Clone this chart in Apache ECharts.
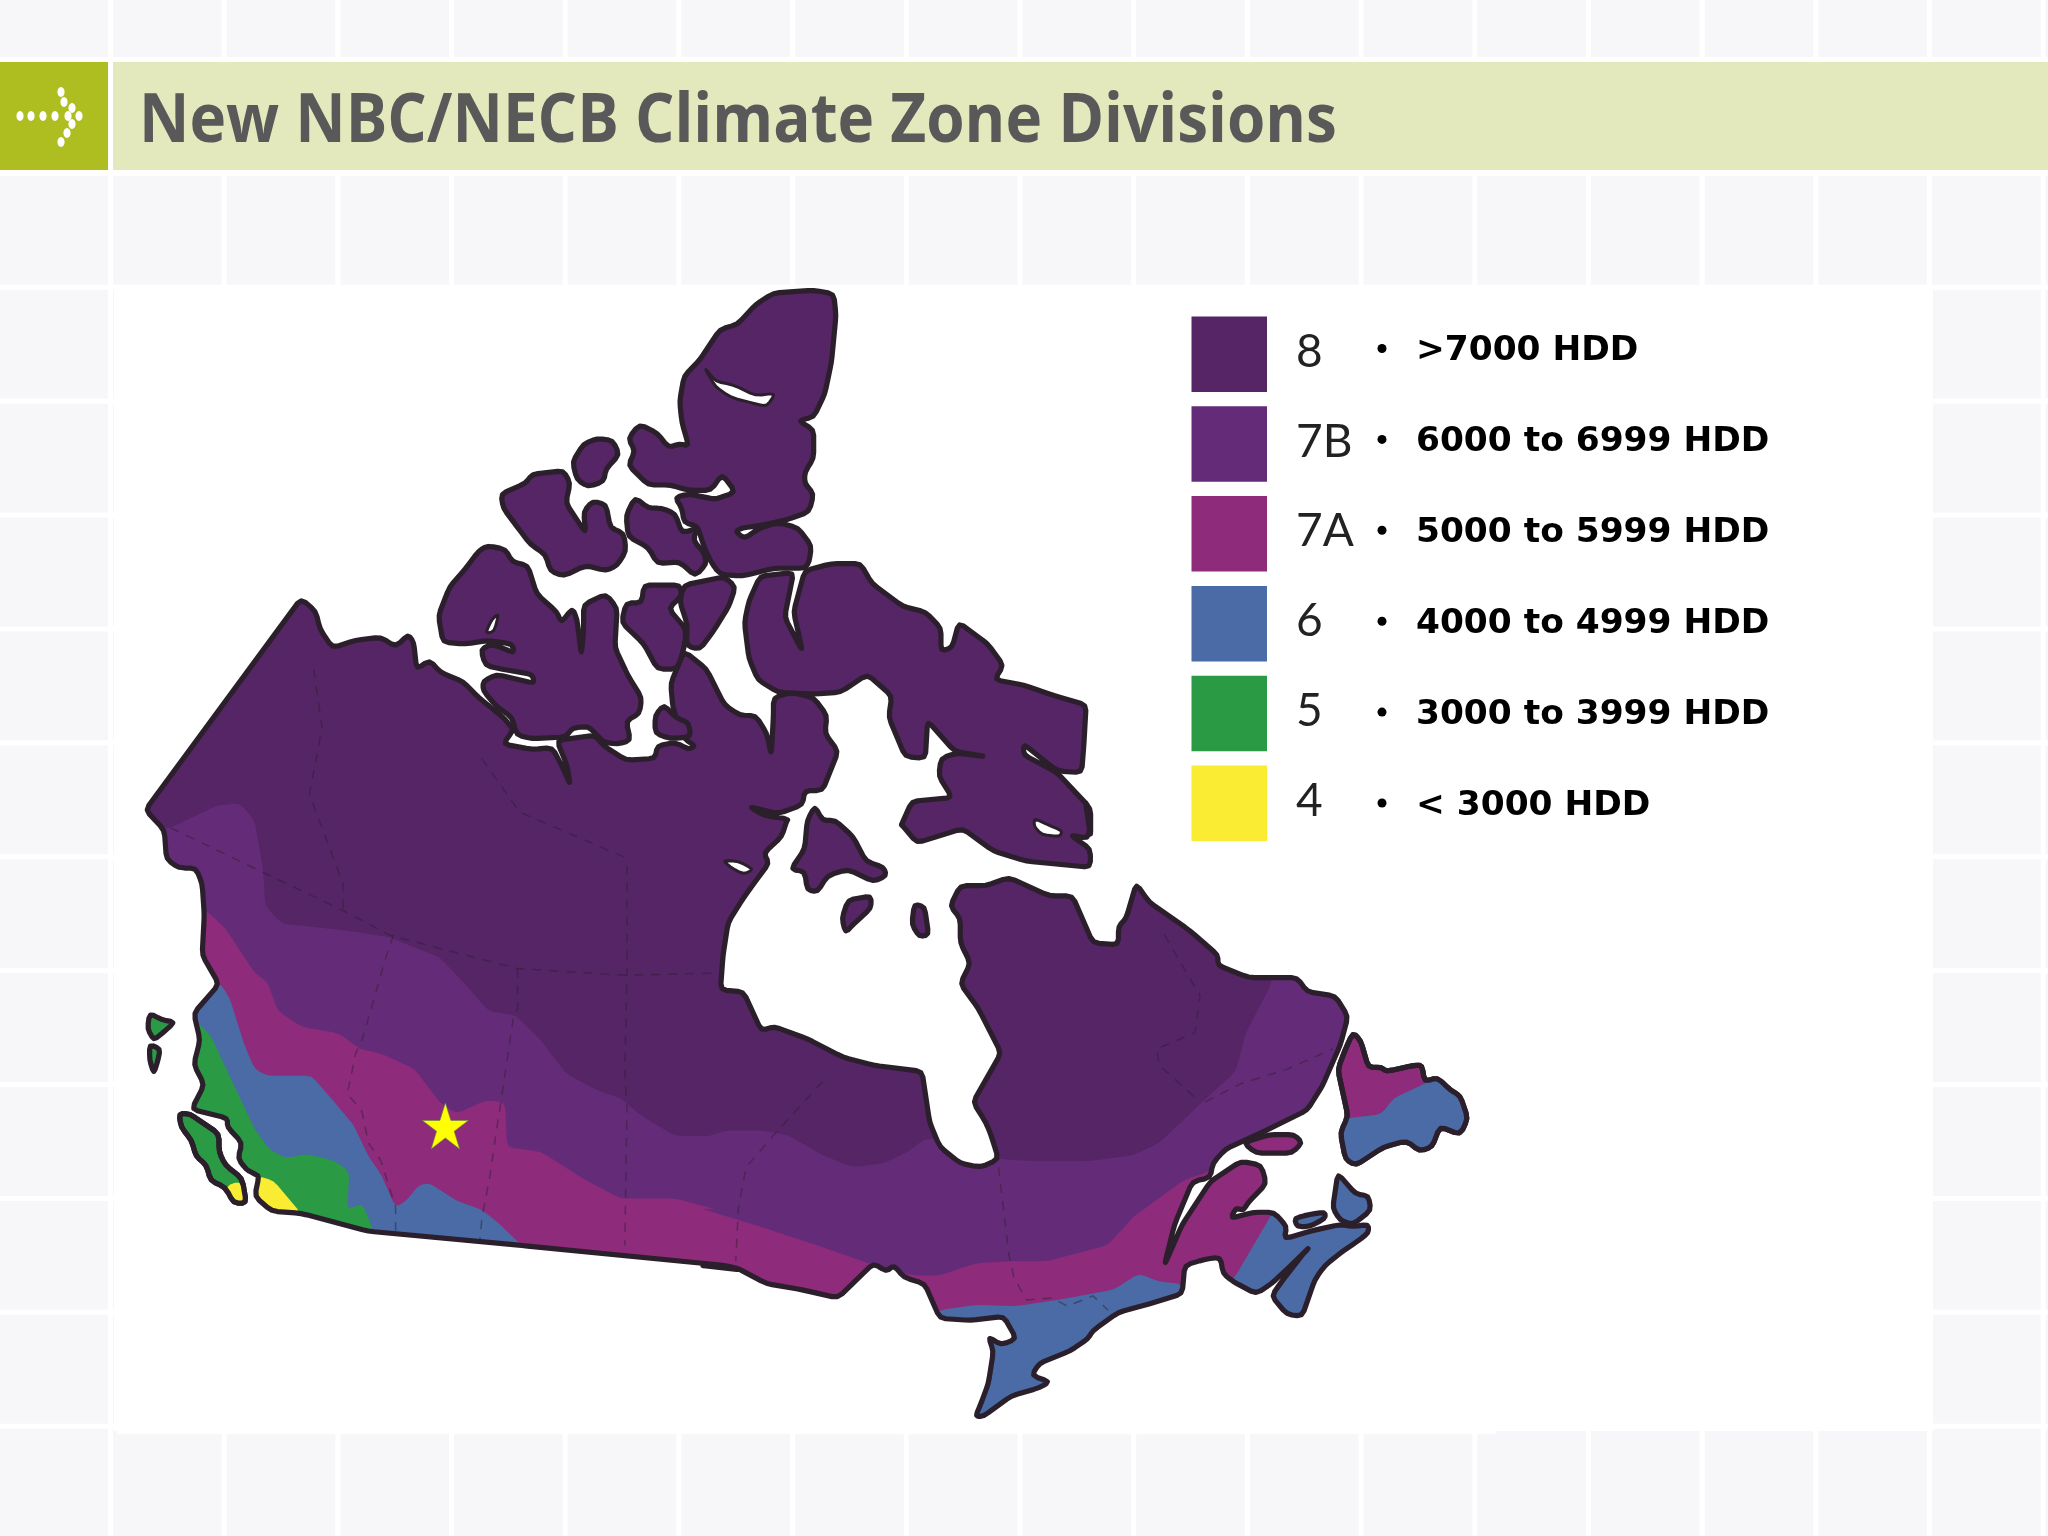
<!DOCTYPE html>
<html>
<head>
<meta charset="utf-8">
<style>
html,body{margin:0;padding:0;width:2048px;height:1536px;overflow:hidden;background-color:#f7f7f9;
background-image:linear-gradient(to right,#fff 5px,transparent 5px),linear-gradient(to bottom,#fff 5px,transparent 5px);
background-size:113.7px 113.9px;background-position:108px 57px;}
#top{position:absolute;left:0;top:57px;width:2048px;height:118px;background:#fff}
#panel{position:absolute;left:114px;top:287px;width:1819px;height:1144px;background:#fff}
#box{position:absolute;left:0;top:62px;width:108px;height:108px;background:#aebd20}
#band{position:absolute;left:113px;top:62px;width:1935px;height:108px;background:#e3e8bd}
#chart{position:absolute;left:0;top:0;width:2048px;height:1536px}
</style>
<script src="https://cdn.jsdelivr.net/npm/echarts@6/dist/echarts.min.js"></script>
</head>
<body>
<div id="top"></div><div id="panel"></div><div id="box"></div><div id="band"></div>
<div id="chart"></div>
<script>
// ---- content ----
const titleText = 'New NBC/NECB Climate Zone Divisions';
const zoneLabels = ['8','7B','7A','6','5','4'];
const zoneRanges = ['>7000 HDD','6000 to 6999 HDD','5000 to 5999 HDD','4000 to 4999 HDD','3000 to 3999 HDD','< 3000 HDD'];
const zoneColors = ['#552566','#642c78','#8e2b7b','#4a6ba5','#2a9a45','#f9ec32'];
const [C8,C7B,C7A,C6,C5,C4] = zoneColors;
const ink = '#2b1f2b';

const vA = a => a.map(p => [322 + .342*p[0], 214 + .2736*p[1]]);   // Arctic view
const vB = a => a.map(p => [92 + .322*p[0], 444 + .342*p[1]]);     // West view
const vC = a => a.map(p => [536 + .3906*p[0], 612.5 + .3125*p[1]]); // East view

const coastNW = [[60,515],[430,42],[465,70],[475,110],[505,152],[560,135],[620,128],[655,150],[685,122],[698,140],[705,200]];
const coastArctic = [[20,1065],[45,1100],[95,1125],[130,1170],[185,1225],[205,1255],[205,1265],[185,1300],[250,1315],[295,1310],[320,1370],[335,1415],[328,1360],[305,1290],[390,1275],[410,1305],[460,1345],[525,1340],[530,1305],[570,1295],[600,1315],[615,1305],[590,1285],[565,1200],[560,1130],[590,1040],[640,1090],[680,1190],[715,1220],[750,1220],[775,1270],[785,1330],[790,1220],[790,1170],[830,1155],[880,1170],[910,1220],[905,1270],[935,1320],[900,1430],[860,1430],[855,1470],[800,1495],[735,1475],[770,1500],[825,1510]];
const coastEast = [[170,50],[160,90],[125,130],[135,155],[105,205],[85,240],[55,300],[45,380],[40,465],[85,470],[120,565],[145,555],[210,585],[280,630],[340,650],[435,665],[450,790],[470,850],[510,890],[550,900],[585,880],[570,820],[560,790],[535,740],[590,620],[545,510],[510,450],[530,400],[510,350],[510,290],[490,260],[510,210],[560,210],[605,190],[685,235],[730,235],[770,350],[820,355],[820,310],[835,290],[855,205],[880,250],[960,320],[1015,380],[1015,405],[1075,435],[1170,435],[1190,470],[1245,480],[1270,530],[1255,600],[1220,700],[1190,760],[1100,815],[1030,855],[1005,890],[1000,925],[965,935],[930,1040],[910,1140],[945,1040],[1000,935],[1060,885],[1100,895],[1110,940],[1075,985],[1065,1005],[1050,1000],[1040,1025],[1085,1010],[1125,1010],[1150,1045],[1145,1075],[1200,1055],[1255,1040],[1280,1045],[1310,1040],[1310,1060],[1290,1080],[1260,1105],[1225,1140],[1205,1175],[1180,1265],[1150,1260],[1120,1215],[1140,1180],[1180,1115],[1195,1095],[1150,1150],[1120,1185],[1090,1210],[1045,1180],[1025,1160],[1020,1120],[990,1125],[950,1140],[945,1210],[880,1235],[820,1255],[770,1300],[760,1320],[725,1350],[665,1380],[650,1410],[685,1425],[665,1440],[610,1460],[555,1510],[540,1510],[550,1480],[565,1430],[575,1350],[565,1315],[590,1335],[620,1320],[595,1265],[530,1275],[470,1270],[440,1185],[400,1170],[380,1140],[365,1155],[340,1135],[270,1220],[200,1200],[130,1185],[70,1145],[0,1140]];
const coastSW = [[1480,1545],[1440,1535],[955,1490],[590,1458],[430,1418],[360,1413],[320,1380],[330,1335],[320,1330],[300,1320],[280,1295],[290,1260],[255,1225],[255,1205],[170,1185],[200,1130],[175,1085],[190,1030],[175,970],[235,905],[195,840],[200,750],[195,680],[180,645],[140,645],[110,625],[105,560]];
const mainland = [...vB(coastNW),...vA(coastArctic),...vC(coastEast),...vB(coastSW)];

const band7B = [...vB([[60,560],[120,555],[230,505],[285,500],[320,540],[340,650],[345,730],[385,770],[440,775],[540,785],[640,800],[760,845],[830,915],[875,965],[940,975],[1000,1030],[1060,1105],[1140,1145],[1190,1160],[1240,1200],[1320,1245],[1400,1245],[1470,1235]]),
  ...vC([[0,830],[50,810],[120,810],[170,820],[240,870],[300,900],[360,890],[410,860],[440,830],[470,830],[590,880],[660,885],[760,885],[850,870],[900,840],[980,745],[1050,665],[1070,570],[1120,450],[1120,400],[1300,400],[1400,1500],[400,1525]]),
  ...vB([[40,1500]])];
const band7A = [...vB([[150,740],[205,740],[250,780],[320,880],[350,900],[375,965],[430,1000],[520,1015],[570,1050],[620,1060],[700,1095],[760,1170],[800,1195],[870,1165],[915,1170],[920,1270],[1000,1280],[1100,1340],[1190,1385],[1320,1385],[1420,1410]]),
  ...vC([[0,1000],[130,1050],[250,1100],[330,1135],[420,1165],[470,1165],[540,1135],[610,1130],[680,1130],[800,1090],[850,1020],[950,930],[1000,910],[1010,870],[1040,860],[1150,860],[1200,1000],[1150,1500],[400,1525]]),
  ...vB([[150,1500]])];
const zone6West = [[170,900],[235,900],[260,935],[295,1040],[320,1095],[350,1110],[455,1110],[510,1170],[555,1220],[590,1290],[620,1330],[655,1405],[680,1390],[710,1355],[735,1350],[800,1390],[860,1410],[900,1440],[955,1490],[955,1530],[170,1500]];
const zone5West = [[140,990],[185,990],[215,1020],[250,1090],[290,1170],[320,1230],[355,1275],[395,1295],[440,1285],[510,1300],[545,1325],[540,1410],[575,1395],[600,1450],[600,1510],[140,1510]];
const zone4West = [[300,1335],[330,1335],[365,1345],[430,1418],[400,1450],[300,1450]];
const zone6South = [[450,1270],[470,1250],[540,1237],[620,1240],[700,1225],[810,1200],[860,1160],[900,1180],[945,1185],[960,1240],[800,1525],[450,1525]];
const zone6Maritime = [[1125,1005],[1050,1165],[1040,1180],[1090,1230],[1200,1290],[1350,1100],[1330,1000]];

const isleEllesmere = [[790,38],[880,30],[925,40],[930,100],[920,230],[905,320],[880,385],[845,395],[880,420],[880,500],[860,540],[860,570],[880,600],[870,650],[820,672],[755,690],[720,695],[705,705],[725,725],[760,695],[800,680],[845,695],[875,745],[870,790],[860,808],[790,808],[720,830],[670,825],[650,790],[635,750],[620,690],[590,680],[585,640],[570,610],[600,600],[640,610],[660,615],[705,595],[675,545],[650,590],[600,590],[560,575],[510,575],[465,520],[480,480],[465,445],[490,405],[530,430],[555,470],[580,460],[600,465],[585,400],[580,340],[590,270],[625,225],[670,140],[710,125],[750,70]];
const fiordEllesmere = [[635,245],[660,285],[700,295],[750,325],[795,318],[775,355],[750,348],[695,330],[660,300]];
const isleSmall = [[395,445],[430,450],[445,490],[415,530],[410,565],[375,580],[350,560],[340,510],[365,460]];
const isleMelville = [[180,600],[235,570],[250,545],[320,535],[335,570],[325,625],[370,710],[365,650],[385,620],[415,630],[425,695],[455,710],[460,760],[440,800],[415,815],[370,800],[320,830],[290,815],[280,770],[245,740],[215,690],[185,640]];
const isleBathurst = [[480,610],[510,640],[540,640],[570,655],[585,710],[620,695],[610,730],[635,765],[640,795],[615,830],[580,790],[530,795],[510,750],[465,720],[460,660]];
const isleVictoria = [[150,745],[190,755],[205,790],[240,800],[260,880],[305,930],[315,960],[340,920],[350,950],[360,1050],[365,980],[365,910],[415,880],[440,920],[435,1030],[465,1110],[495,1170],[490,1215],[460,1235],[470,1290],[440,1300],[410,1295],[395,1275],[375,1250],[340,1255],[325,1280],[250,1285],[215,1275],[205,1225],[170,1195],[140,1150],[140,1125],[170,1105],[255,1130],[250,1105],[180,1090],[145,1080],[135,1035],[160,1020],[210,1045],[205,1020],[150,1010],[100,1020],[50,1015],[40,940],[65,860],[100,810],[130,760]];
const slitVictoria = [[145,990],[160,950],[175,935],[165,985]];
const islePrinceWales = [[500,855],[580,855],[585,885],[555,920],[595,980],[590,1030],[575,1090],[530,1090],[500,1020],[450,960],[460,905],[495,905]];
const isleSomerset = [[590,855],[680,832],[705,860],[690,915],[655,985],[625,1035],[595,1025],[597,965],[580,900]];
const isleKingWilliam = [[545,1190],[570,1225],[600,1240],[605,1280],[560,1285],[525,1270],[525,1220]];
const baffinNorth = [[760,830],[835,820],[815,945],[855,1040],[835,930],[860,815],[920,795],[985,795],[1010,850],[1080,915],[1130,930],[1165,975],[1165,1040],[1190,1030],[1205,960],[1270,1020],[1305,1080],[1285,1120],[1350,1135],[1420,1165],[1490,1190],[1485,1300],[1480,1380],[1425,1375],[1350,1300],[1350,1330],[1425,1380],[1500,1480],[1500,1560]];
const baffinSouth = [[755,0],[765,60],[760,95],[725,85],[765,120],[765,165],[640,150],[575,125],[515,70],[425,105],[395,60]];
const baffinWest = [[1075,1530],[1100,1460],[1190,1450],[1160,1390],[1165,1340],[1200,1325],[1265,1335],[1195,1320],[1135,1235],[1130,1340],[1085,1335],[1048,1225],[1055,1165],[1000,1105],[940,1155],[880,1160],[800,1155],[755,1120],[735,1060],[725,960],[735,900]];
const isleBaffin = [...vA(baffinNorth),...vC(baffinSouth),...vA(baffinWest)];
const isleBaffinFiord = [[655,45],[680,60],[710,75],[705,90],[670,85],[655,65]];
const slitHudson = [[45,148],[75,150],[105,170],[85,182],[60,165]];
const isleSouthampton = [[225,15],[240,50],[265,50],[300,90],[325,150],[360,165],[365,185],[340,200],[290,170],[250,185],[230,225],[210,220],[205,175],[178,170],[205,120],[210,50]];
const isleCoats = [[290,245],[335,235],[335,265],[300,305],[285,325],[278,290]];
const isleMansel = [[420,255],[440,262],[448,330],[430,335],[415,305]];
const isleAnticosti = [[1065,840],[1115,820],[1165,820],[1180,840],[1160,865],[1090,865]];
const isleNewfoundland = [[1280,570],[1295,590],[1310,655],[1335,655],[1345,665],[1400,650],[1415,650],[1420,690],[1445,680],[1470,710],[1490,725],[1505,780],[1490,820],[1450,800],[1435,850],[1410,860],[1385,835],[1340,850],[1285,895],[1265,880],[1255,815],[1270,775],[1250,660],[1265,610]];
const zone6Newfoundland = [[1265,780],[1335,770],[1360,730],[1420,695],[1445,680],[1470,710],[1490,725],[1505,780],[1490,820],[1450,800],[1435,850],[1410,860],[1385,835],[1340,850],[1285,895],[1265,880],[1255,815]];
const isleCapeBreton = [[1250,915],[1285,965],[1310,970],[1315,1005],[1280,1040],[1255,1030],[1240,1000]];
const islePEI = [[1165,1025],[1195,1015],[1225,1010],[1225,1025],[1195,1045],[1170,1045]];
const isleVancouver = [[140,1195],[165,1195],[235,1240],[235,1280],[250,1310],[290,1340],[300,1395],[270,1395],[250,1360],[215,1345],[205,1310],[180,1290],[170,1255],[145,1225]];
const zone4Vancouver = [[250,1358],[285,1345],[298,1392],[272,1393]];
const isleHaidaN = [[70,970],[100,985],[130,990],[100,1015],[80,1030],[65,1005]];
const isleHaidaS = [[70,1040],[95,1050],[90,1075],[80,1105],[70,1075]];

const provinceLines = [
  vB([[650,795],[630,850],[600,950],[575,1030],[560,1060],[540,1150],[575,1190],[590,1260],[620,1300],[655,1405],[655,1465]]),
  vB([[945,870],[945,960],[935,980],[905,1170],[895,1230],[880,1330],[860,1430],[855,1480]]),
  vB([[1205,640],[1205,880],[1200,1100],[1205,1180],[1200,1490]]),
  vB([[120,555],[340,655],[530,740],[640,795],[760,825],[945,870],[1200,885],[1420,880]]),
  vB([[460,200],[480,330],[450,480],[530,680],[530,740]]),
  vB([[860,400],[950,520],[1210,625]]),
  vC([[240,690],[145,820],[90,900],[75,1000],[70,1130]]),
  vC([[585,900],[605,1110],[615,1170],[640,1225],[690,1220],[720,1240],[770,1215],[800,1250]]),
  vC([[990,740],[1060,695],[1150,660],[1240,610]]),
  vC([[910,330],[980,480],[970,570],[895,610],[900,650],[980,740]])
];
const starPoint = [341,862];

// round the hand-traced corners slightly
const soften = r => { const out=[]; const n=r.length; const d=4.5;
  r.forEach((p,i)=>{ const a=r[(i-1+n)%n], b=r[(i+1)%n];
    const cut=(q)=>{const L=Math.hypot(q[0]-p[0],q[1]-p[1])||1; const t=Math.min(d,L/3)/L; return [p[0]+(q[0]-p[0])*t,p[1]+(q[1]-p[1])*t];};
    const c1=cut(a), c2=cut(b);
    out.push(c1,[(c1[0]+2*p[0]+c2[0])/4,(c1[1]+2*p[1]+c2[1])/4],c2);
  }); return out; };

// ---- regions, painted in order ----
const fill = (name,pts,color) => ({name,rings:[soften(pts)],color,border:null});
const land = (name,pts,color,w) => ({name,rings:[soften(pts)],color,border:ink,w:w||5.2});
const maskBox = [[90,445],[1145,445],[1145,1098],[90,1098]];
const regionList = [
  fill('zone8',mainland,C8),
  fill('zone7B',band7B,C7B),
  fill('zone7A',band7A,C7A),
  fill('zone6west',vB(zone6West),C6),
  fill('zone5west',vB(zone5West),C5),
  fill('zone4west',vB(zone4West),C4),
  fill('zone6south',vC(zone6South),C6),
  fill('zone6maritime',vC(zone6Maritime),C6),
  {name:'water',rings:[maskBox,soften(mainland)],color:'#ffffff',border:null},
  land('coast',mainland,'rgba(0,0,0,0)'),
  land('slitHudson',vC(slitHudson),'#ffffff',3),
  land('ellesmere',vA(isleEllesmere),C8),
  land('fiord',vA(fiordEllesmere),'#ffffff',3),
  land('small',vA(isleSmall),C8),
  land('melville',vA(isleMelville),C8),
  land('bathurst',vA(isleBathurst),C8),
  land('victoria',vA(isleVictoria),C8),
  land('slitVictoria',vA(slitVictoria),'#ffffff',3),
  land('princeWales',vA(islePrinceWales),C8),
  land('somerset',vA(isleSomerset),C8),
  land('kingWilliam',vA(isleKingWilliam),C8),
  land('baffin',isleBaffin,C8),
  land('baffinFiord',vC(isleBaffinFiord),'#ffffff',3),
  land('southampton',vC(isleSouthampton),C8),
  land('coats',vC(isleCoats),C8),
  land('mansel',vC(isleMansel),C8),
  land('anticosti',vC(isleAnticosti),C7A),
  land('newfoundland',vC(isleNewfoundland),C7A),
  fill('newfoundland6',vC(zone6Newfoundland),C6),
  land('newfoundlandEdge',vC(isleNewfoundland),'rgba(0,0,0,0)'),
  land('capeBreton',vC(isleCapeBreton),C6),
  land('pei',vC(islePEI),C6),
  land('vancouver',vB(isleVancouver),C5),
  fill('vancouver4',vB(zone4Vancouver),C4),
  land('vancouverEdge',vB(isleVancouver),'rgba(0,0,0,0)'),
  land('haidaN',vB(isleHaidaN),C5),
  land('haidaS',vB(isleHaidaS),C5)
];
const flip = r => r.map(p => [p[0],-p[1]]);
const area = r => r.reduce((s,p,i)=>{const q=r[(i+1)%r.length];return s+p[0]*q[1]-q[0]*p[1];},0);
const orient = (r,pos) => (area(r)>0)===pos ? r : r.slice().reverse();
const closed = r => [...r,r[0]];
const geoJson = {type:'FeatureCollection',features:regionList.map(d=>({
  type:'Feature',properties:{name:d.name},
  geometry:{type:'Polygon',coordinates:d.rings.map((r,i)=>closed(orient(flip(r),i===0)))}
}))};
echarts.registerMap('canada',geoJson);

// ---- title, legend and decoration ----
const graphics = [
  {type:'text',x:139,y:123,scaleX:.912,scaleY:1,style:{x:0,y:0,text:titleText,font:'bold 68px "Open Sans"',fill:'#595959',verticalAlign:'middle'},z:50}
];
zoneLabels.forEach((lab,i)=>{
  const sy = 316.5 + i*89.8;
  graphics.push({type:'rect',shape:{x:1191.5,y:sy,width:75.5,height:75.5},style:{fill:zoneColors[i]},z:50});
  graphics.push({type:'text',style:{x:1296,y:352+i*89.8,text:lab,font:'46px Lato',fill:'#222',verticalAlign:'middle'},z:50});
  const ty = 348.5 + i*90.9;
  graphics.push({type:'circle',shape:{cx:1382,cy:ty,r:4.5},style:{fill:'#000'},z:50});
  graphics.push({type:'text',style:{x:1416,y:ty+3,text:zoneRanges[i],font:'bold 34.4px "DejaVu Sans"',fill:'#000',verticalAlign:'middle'},z:50});
});
[[20,116],[31,116],[43,116],[55,116],[68,116],[79,116],[61,92],[64,102],[72,108],[72,124],[67,133],[61,142]].forEach(p=>{
  graphics.push({type:'ellipse',shape:{cx:p[0],cy:p[1],rx:3.6,ry:5},style:{fill:'#fff'},z:50});
});

const chart = echarts.init(document.getElementById('chart'),null,{renderer:'canvas',width:2048,height:1536});
chart.setOption({
  animation:false,
  backgroundColor:'transparent',
  geo:{
    map:'canada',silent:true,aspectScale:1,left:0,top:0,width:2048,height:1536,
    boundingCoords:[[0,0],[1568,-1176]],
    label:{show:false},
    itemStyle:{areaColor:C8,borderWidth:0,borderColor:'transparent'},
    emphasis:{disabled:true},select:{disabled:true},
    regions:regionList.map(d=>({name:d.name,itemStyle:d.border?
      {areaColor:d.color,borderColor:d.border,borderWidth:d.w,borderJoin:'round'}:
      {areaColor:d.color,borderColor:d.color,borderWidth:0}}))
  },
  graphic:{elements:graphics},
  series:[
    {type:'lines',coordinateSystem:'geo',polyline:true,silent:true,z:3,
     lineStyle:{color:'#2b1f2b',width:1.5,opacity:.45,type:[9,8]},
     data:provinceLines.map(l=>({coords:flip(l)}))},
    {type:'scatter',coordinateSystem:'geo',silent:true,z:4,
     symbol:'path://M50 0 L61.8 36.3 L100 36.3 L69.1 58.8 L80.9 95.1 L50 72.6 L19.1 95.1 L30.9 58.8 L0 36.3 L38.2 36.3 Z',
     symbolSize:46,itemStyle:{color:'#ffff00',opacity:1,borderColor:'#5d8d46',borderWidth:.6},
     data:[flip([starPoint])[0]]}
  ]
});
</script>
</body>
</html>
